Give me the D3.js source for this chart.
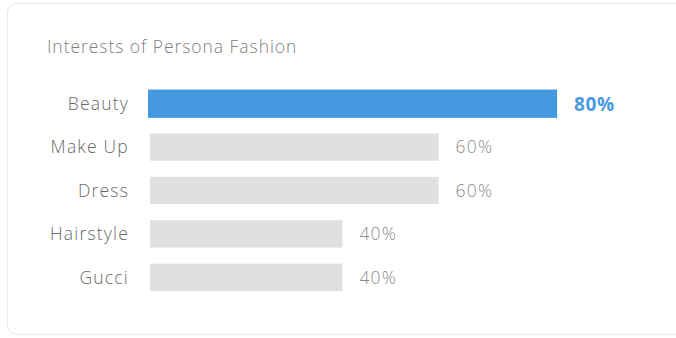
<!DOCTYPE html>
<html lang="en">
<head>
<meta charset="utf-8">
<title>Interests of Persona Fashion</title>
<script src="https://d3js.org/d3.v7.min.js"></script>
<style>
    body { margin: 0; background: #fff; font-family: "Open Sans", Lato, sans-serif; }
    .title { fill: #808080; font-size: 17.5px; font-weight: 300; letter-spacing: 0.95px; }
    .cat { fill: #6a6a6a; font-size: 17.5px; font-weight: 300; letter-spacing: 1.2px; }
    .val { fill: #8c8c8c; font-size: 17.5px; font-weight: 300; letter-spacing: 1.2px; }
    .val.hi { fill: #4a9ae0; font-size: 19px; font-weight: 700; letter-spacing: 0.6px; }
</style>
</head>
<body>
<div id="chart"></div>
<script>
    // data
    var categories = ["Beauty", "Make Up", "Dress", "Hairstyle", "Gucci"];
    var values = [80, 60, 60, 40, 40];
    var highlighted = "Beauty";

    var width = 676, height = 338;

    var svg = d3.select("#chart").append("svg")
        .attr("width", width)
        .attr("height", height);

    // card
    svg.append("rect")
        .attr("x", 7.5).attr("y", 3.5)
        .attr("width", 700).attr("height", 331)
        .attr("rx", 9)
        .attr("fill", "#fff")
        .attr("stroke", "#e8e8e8");

    svg.append("text")
        .attr("class", "title")
        .attr("x", 47).attr("y", 53)
        .text("Interests of Persona Fashion");

    var x = d3.scaleLinear().domain([0, 100]).range([150, 631]);
    var y = d3.scaleBand().domain(categories)
        .range([82, 82 + 5 * 43.4])
        .paddingInner(0.37)
        .paddingOuter(0.185);

    var rows = categories.map(function(c, i) { return {name: c, value: values[i]}; });

    var row = svg.selectAll(".row")
        .data(rows)
      .enter().append("g")
        .attr("class", "row");

    // highlighted bar is drawn slightly enlarged
    var grow = 1.058;
    function barEnd(d) {
        return d.name === highlighted ? x(0) + (x(d.value) - x(0)) * grow : x(d.value);
    }

    row.append("rect")
        .attr("x", function(d) { return d.name === highlighted ? x(0) - 2 : x(0); })
        .attr("y", function(d) { return d.name === highlighted ? y(d.name) - 0.5 : y(d.name); })
        .attr("width", function(d) {
            return d.name === highlighted ? barEnd(d) - x(0) + 2 : barEnd(d) - x(0);
        })
        .attr("height", function(d) { return d.name === highlighted ? y.bandwidth() + 1 : y.bandwidth(); })
        .attr("fill", function(d) { return d.name === highlighted ? "#4599df" : "#e0e0e0"; });

    row.append("text")
        .attr("class", "cat")
        .attr("x", 129)
        .attr("y", function(d) { return y(d.name) + y.bandwidth() / 2; })
        .attr("dy", "0.36em")
        .attr("text-anchor", "end")
        .text(function(d) { return d.name; });

    row.append("text")
        .attr("class", function(d) { return d.name === highlighted ? "val hi" : "val"; })
        .attr("x", function(d) { return barEnd(d) + 17; })
        .attr("y", function(d) { return y(d.name) + y.bandwidth() / 2; })
        .attr("dy", "0.36em")
        .text(function(d) { return d.value + "%"; });
</script>
</body>
</html>
